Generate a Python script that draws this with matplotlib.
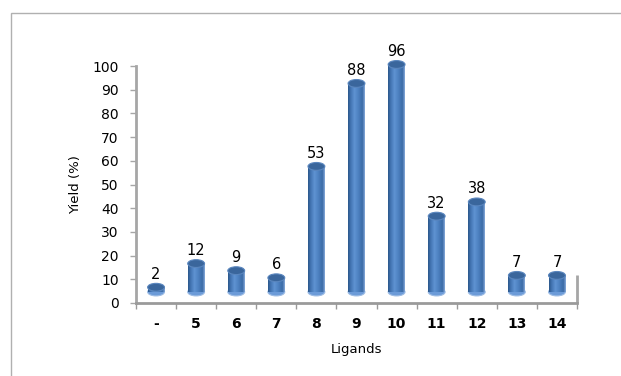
import matplotlib.pyplot as plt
import matplotlib.transforms as mtransforms
import numpy as np
from matplotlib.colors import LinearSegmentedColormap
from matplotlib.patches import Ellipse, Rectangle

ligands = ['-', '5', '6', '7', '8', '9', '10', '11', '12', '13', '14']
yields = [2, 12, 9, 6, 53, 88, 96, 32, 38, 7, 7]

grey = '#A6A6A6'

fig = plt.figure(figsize=(6.21, 3.76), dpi=100)
fig.patch.set_facecolor('white')

# chart area frame (only top and left edges show)
fig.patches.append(Rectangle((11 / 621, -0.1), 1.0, (376 - 13) / 376 + 0.1,
                             transform=fig.transFigure, fill=False,
                             edgecolor='#B0B0B0', lw=1.0))

ax = fig.add_axes([136 / 621, 73 / 376, 441 / 621, 237 / 376])

# bars sit a little above the floor, like a 3-D column chart
lift = mtransforms.ScaledTranslation(0, 11 / 100, fig.dpi_scale_trans)
tr = ax.transData + lift

cyl = LinearSegmentedColormap.from_list('cyl', [
    (0.0, '#2B578A'), (0.15, '#4274B2'), (0.38, '#5F93D2'),
    (0.6, '#4E82C2'), (0.86, '#3B6BA6'), (1.0, '#86AADA')])
grad = np.linspace(0, 1, 64).reshape(1, -1)

x = np.arange(len(ligands))
w = 0.42
cap_h = 3.3

bars = ax.bar(x, yields, width=w, color='#4F81BD', transform=tr,
              zorder=3, clip_on=False)
for xi, v, rect in zip(x, yields, bars):
    im = ax.imshow(grad, cmap=cyl, extent=(xi - w / 2, xi + w / 2, 0, v),
                   aspect='auto', transform=tr, zorder=3.1,
                   interpolation='bilinear')
    im.set_clip_path(rect)
    im.set_clip_on(True)
    # rounded bottom and darker top face
    ax.add_patch(Ellipse((xi, 0), w, cap_h, transform=tr, facecolor='#6C9BD8',
                         edgecolor='#9DBCE4', lw=0.8, zorder=2.9, clip_on=False))
    ax.add_patch(Ellipse((xi, v), w, cap_h, transform=tr, facecolor='#3A669C',
                         edgecolor='#5A86BE', lw=0.8, zorder=3.3, clip_on=False))
    ax.annotate(str(v), xy=(xi, v), xycoords=tr, xytext=(0, 4),
                textcoords='offset points', ha='center', va='bottom',
                fontsize=10.5, color='black', zorder=4)

ax.set_xlim(-0.5, len(ligands) - 0.5)
ax.set_ylim(0, 100)
ax.set_facecolor('none')

for side in ['top', 'right']:
    ax.spines[side].set_visible(False)
ax.spines['left'].set_color(grey)
ax.spines['left'].set_linewidth(2)
ax.spines['bottom'].set_color('#9A9A9A')
ax.spines['bottom'].set_linewidth(2)

# short back edge of the floor on the right
ax.vlines(len(ligands) - 0.5, 0, 12, color=grey, lw=2, clip_on=False)

ax.set_yticks(np.arange(0, 101, 10))
ax.tick_params(axis='y', direction='out', length=4.5, width=1, color=grey,
               labelsize=10, pad=8)
ax.set_xticks(x)
ax.set_xticklabels(ligands, fontweight='bold')
ax.set_xticks(np.arange(-0.5, len(ligands), 1), minor=True)
ax.tick_params(axis='x', which='major', length=0, labelsize=10, pad=10)
ax.tick_params(axis='x', which='minor', direction='out', length=4,
               width=1, color='#9A9A9A')

ax.set_ylabel('Yield (%)', fontsize=9.5, labelpad=7)
ax.set_xlabel('Ligands', fontsize=9.5, labelpad=9)

fig.savefig('out.png', dpi=100)
